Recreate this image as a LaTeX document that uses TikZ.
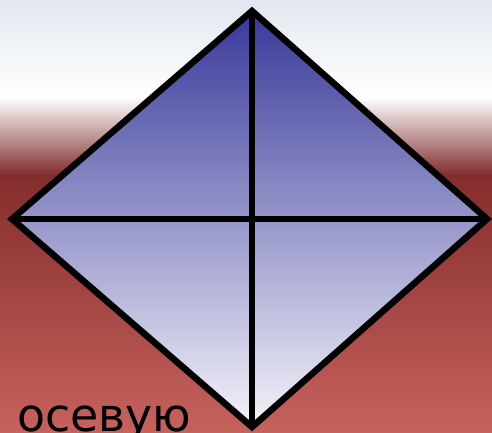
\documentclass[tikz,border=0pt]{standalone}
\usepackage{fontspec}
\newfontfamily\labelfont{DejaVu Sans}
\usepackage{tikz}
\usetikzlibrary{positioning}
\usepackage{xcolor}
\definecolor{skytop}{HTML}{E2E8F0}
\definecolor{bandred}{HTML}{7E2828}
\definecolor{floortop}{HTML}{852D2D}
\definecolor{floorbot}{HTML}{C6625D}
\definecolor{rhombtop}{HTML}{38389A}
\definecolor{rhombbot}{HTML}{F4F4FA}

\begin{document}
\begin{tikzpicture}[x=1bp, y=1bp,
    outline/.style={draw=black, line width=6.5bp, line join=miter, miter limit=10},
    axisline/.style={draw=black, line width=6.5bp}]
  % background
  \useasboundingbox (0,0) rectangle (492,432);
  \fill[top color=skytop, bottom color=white] (0,335) rectangle (492,432);
  \fill[top color=white, bottom color=bandred] (0,255) rectangle (492,335);
  \fill[top color=floortop, bottom color=floorbot] (0,0) rectangle (492,255);
  % rhombus
  \coordinate (top) at (252,421);
  \coordinate (left) at (12,213);
  \coordinate (right) at (487,213);
  \coordinate (bottom) at (252,5);
  \shade[top color=rhombtop, bottom color=rhombbot] (top) -- (right) -- (bottom) -- (left) -- cycle;
  \draw[axisline] (top) -- (bottom);
  \draw[axisline] (left) -- (right);
  \draw[outline] (top) -- (right) -- (bottom) -- (left) -- cycle;
  % caption
  \node[anchor=base west, inner sep=0pt, font=\labelfont\fontsize{46}{46}\selectfont] (word) at (17,1) {осевую};
\end{tikzpicture}
\end{document}
